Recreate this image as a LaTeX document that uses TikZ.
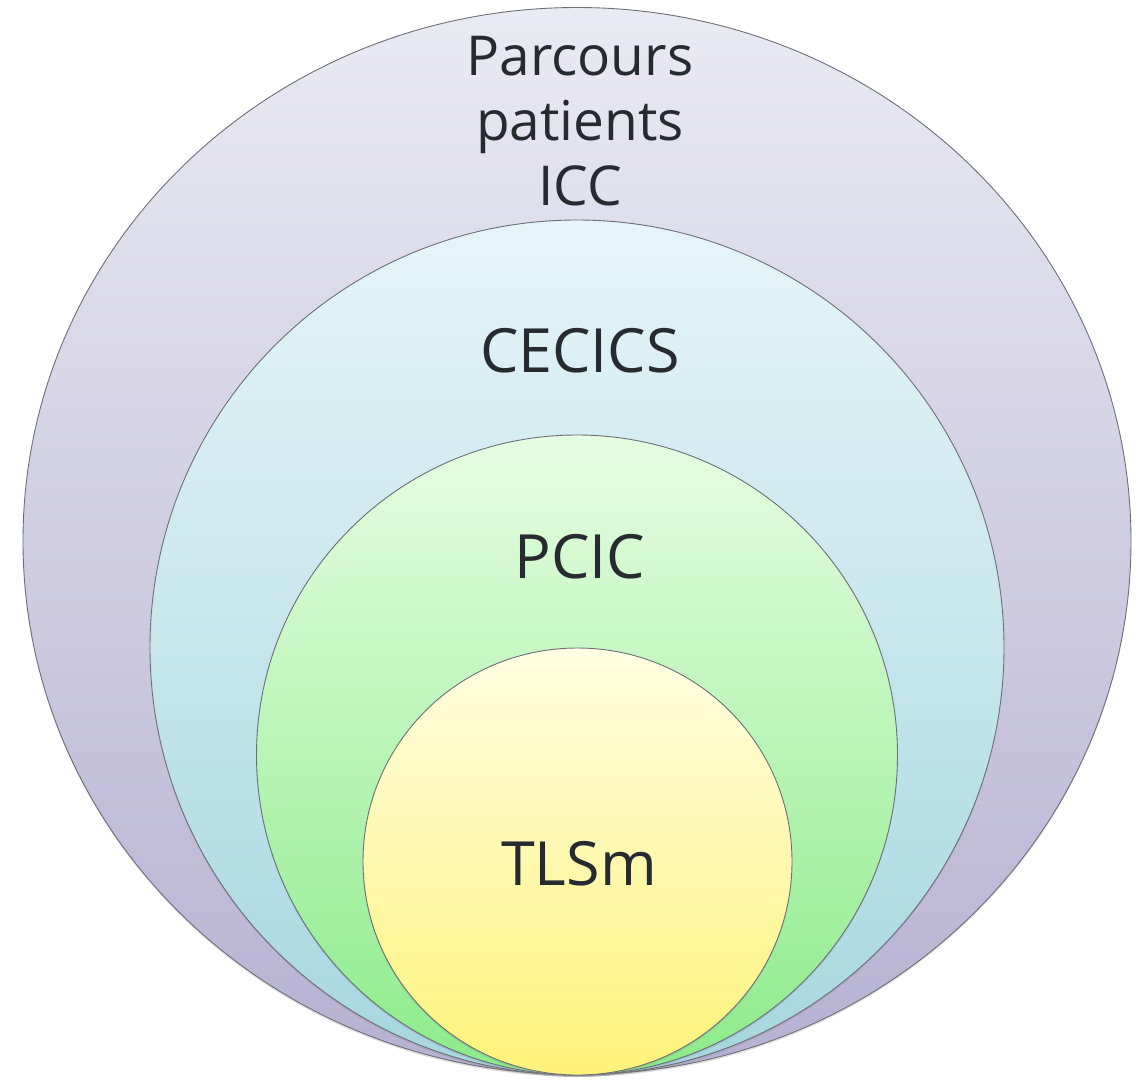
\documentclass[tikz,border=0pt]{standalone}
\usepackage{fontspec}
\setmainfont{Open Sans}
\usepackage{xcolor}
\usepackage{tikz}
\usetikzlibrary{positioning,shapes,shadows}
\definecolor{inkgrey}{HTML}{262B30}
\definecolor{rimgrey}{HTML}{6E6E78}
\definecolor{iccTop}{HTML}{EAEAF3}
\definecolor{iccBot}{HTML}{B6B1D2}
\definecolor{cecTop}{HTML}{E6F5F9}
\definecolor{cecBot}{HTML}{A6D6DF}
\definecolor{pcicTop}{HTML}{E6FDE2}
\definecolor{pcicBot}{HTML}{8CEB8A}
\definecolor{tlsTop}{HTML}{FFFEE2}
\definecolor{tlsBot}{HTML}{FFF27A}
\tikzstyle{ring} = [ellipse,draw=rimgrey,line width=0.9pt,inner sep=0pt,outer sep=0pt,drop shadow={shadow xshift=0pt,shadow yshift=-2pt,opacity=0.25}]
\tikzstyle{tag} = [text=inkgrey,inner sep=0pt,align=center]

\begin{document}
\begin{tikzpicture}[x=1pt,y=-1pt]
        \useasboundingbox (0,0) rectangle (1143,1079);
        \node[ring,top color=iccTop,bottom color=iccBot,minimum width=1108pt,minimum height=1067pt] (icc) at (577,541) {};
        \node[ring,top color=cecTop,bottom color=cecBot,minimum width=854pt,minimum height=855pt] (cecics) at (577,647.5) {};
        \node[ring,top color=pcicTop,bottom color=pcicBot,minimum width=641pt,minimum height=640pt] (pcic) at (577,755) {};
        \node[ring,top color=tlsTop,bottom color=tlsBot,minimum width=429pt,minimum height=427pt] (tlsm) at (577.5,861.5) {};
        \node[tag,anchor=base,font=\fontsize{55}{65}\selectfont] (iccname) at (580,205) {Parcours\\patients\\ICC};
        \node[tag,anchor=base,font=\fontsize{61}{70}\selectfont] (cecname) at (580,372) {CECICS};
        \node[tag,anchor=base,font=\fontsize{61}{70}\selectfont] (pcicname) at (580,578) {PCIC};
        \node[tag,anchor=base,font=\fontsize{61}{70}\selectfont] (tlsname) at (579,885) {TLSm};
    \end{tikzpicture}
\end{document}
